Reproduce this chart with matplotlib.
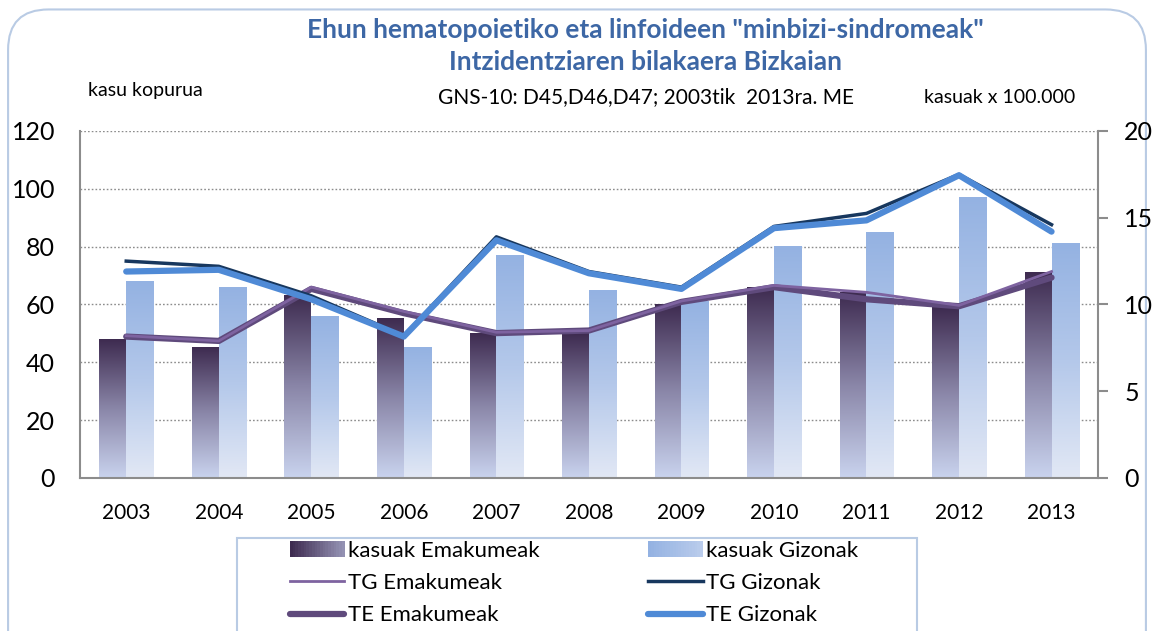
import numpy as np
import matplotlib.pyplot as plt
from matplotlib.patches import FancyBboxPatch, Rectangle
from matplotlib.legend_handler import HandlerBase
from matplotlib.colors import LinearSegmentedColormap
from matplotlib.lines import Line2D

plt.rcParams['font.family'] = ['Lato', 'DejaVu Sans']

years = ['2003', '2004', '2005', '2006', '2007', '2008', '2009', '2010', '2011', '2012', '2013']
kasuak_emakumeak = [48, 45, 63, 55, 50, 50, 60, 66, 64, 59, 71]
kasuak_gizonak = [68, 66, 56, 45, 77, 65, 61, 80, 85, 97, 81]
tg_emakumeak = [8.2, 7.9, 11.0, 9.6, 8.4, 8.5, 10.2, 11.1, 10.7, 9.95, 11.9]
tg_gizonak = [12.5, 12.2, 10.5, 8.2, 13.9, 11.9, 11.0, 14.5, 15.25, 17.5, 14.6]
te_emakumeak = [8.15, 7.9, 10.9, 9.5, 8.35, 8.5, 10.15, 11.0, 10.3, 9.9, 11.55]
te_gizonak = [11.9, 12.0, 10.3, 8.15, 13.7, 11.8, 10.9, 14.4, 14.85, 17.45, 14.2]

cmap_em = LinearSegmentedColormap.from_list('em', ['#c9d3ee', '#8a86a8', '#3e2b50'])
cmap_giz = LinearSegmentedColormap.from_list('giz', ['#e2e8f5', '#b4c8ea', '#94b2e2'])

fig = plt.figure(figsize=(11.54, 6.31), dpi=100)
fig.patches.append(FancyBboxPatch((0.007, -0.1), 0.986, 1.085, boxstyle='round,pad=0,rounding_size=0.035',
                                  transform=fig.transFigure, fc='none', ec='#b9cbe4', lw=1.5,
                                  mutation_aspect=1154 / 631, zorder=-1))

ax = fig.add_axes([0.0693, 0.2425, 0.882, 0.5499])
x = np.arange(len(years))
w = 0.29
grad = np.linspace(0, 1, 256).reshape(-1, 1)

for xi, v in zip(x, kasuak_emakumeak):
    ax.imshow(grad, extent=[xi - w, xi, 0, v], origin='lower', cmap=cmap_em, aspect='auto', zorder=2)
for xi, v in zip(x, kasuak_gizonak):
    ax.imshow(grad, extent=[xi, xi + w + 0.01, 0, v], origin='lower', cmap=cmap_giz, aspect='auto', zorder=2)

ax.set_xlim(-0.5, len(years) - 0.5)
ax.set_ylim(0, 120)
ax.set_yticks(range(0, 121, 20))
ax.set_xticks(x)
ax.set_xticklabels(years, fontsize=15)
ax.tick_params(axis='y', labelsize=18, length=0, pad=18)
ax.tick_params(axis='x', length=0, pad=18)
ax.yaxis.grid(True, ls=(0, (1.2, 1.5)), color='#8c8c8c', lw=1)
ax.set_axisbelow(True)
for s in ['left', 'bottom']:
    ax.spines[s].set_color('#8c8c8c')
    ax.spines[s].set_linewidth(1.5)
ax.spines['top'].set_visible(False)
ax.spines['right'].set_visible(False)

ax2 = ax.twinx()
ax2.set_ylim(0, 20)
ax2.set_yticks(range(0, 21, 5))
ax2.tick_params(axis='y', labelsize=18, length=7, width=1.5, color='#8c8c8c', pad=12)
ax2.spines['right'].set_color('#8c8c8c')
ax2.spines['right'].set_linewidth(1.5)
for s in ['left', 'bottom', 'top']:
    ax2.spines[s].set_visible(False)

ax2.plot(x, te_emakumeak, color='#5f4a7c', lw=4.5, solid_capstyle='round', zorder=3)
ax2.plot(x, tg_emakumeak, color='#7e63a0', lw=2, zorder=4)
ax2.plot(x, tg_gizonak, color='#17375e', lw=2.5, zorder=5)
ax2.plot(x, te_gizonak, color='#4f8ad6', lw=4.5, solid_capstyle='round', zorder=6)

fig.text(0.559, 0.953, 'Ehun hematopoietiko eta linfoideen "minbizi-sindromeak"', ha='center', va='center',
         fontsize=19, fontweight='bold', color='#3d67a5')
fig.text(0.559, 0.902, 'Intzidentziaren bilakaera Bizkaian', ha='center', va='center',
         fontsize=19, fontweight='bold', color='#3d67a5')
fig.text(0.076, 0.857, 'kasu kopurua', ha='left', va='center', fontsize=14)
fig.text(0.560, 0.846, 'GNS-10: D45,D46,D47; 2003tik  2013ra. ME', ha='center', va='center', fontsize=15)
fig.text(0.932, 0.846, 'kasuak x 100.000', ha='right', va='center', fontsize=14)


class GradHandler(HandlerBase):
    def __init__(self, cmap):
        super().__init__()
        self.cmap = cmap

    def create_artists(self, legend, orig_handle, xdescent, ydescent, width, height, fontsize, trans):
        n = 20
        arts = []
        for i in range(n):
            r = Rectangle((xdescent + width * i / n, ydescent), width / n + 0.3, height,
                          fc=self.cmap(1 - 0.6 * i / n), ec='none', transform=trans)
            arts.append(r)
        return arts


# legend frame runs off the bottom edge like in the original
fig.patches.append(Rectangle((237 / 1154, -0.05), 680 / 1154, 0.05 + 93 / 631, transform=fig.transFigure,
                             fc='white', ec='#b9cbe4', lw=1.5, zorder=2))

h_em = Rectangle((0, 0), 1, 1)
h_giz = Rectangle((0, 0), 1, 1, fill=False)
handles = [h_em,
           Line2D([], [], color='#7e63a0', lw=2),
           Line2D([], [], color='#5f4a7c', lw=4.5, solid_capstyle='round'),
           h_giz,
           Line2D([], [], color='#17375e', lw=2.5),
           Line2D([], [], color='#4f8ad6', lw=4.5, solid_capstyle='round')]
labels = ['kasuak Emakumeak', 'TG Emakumeak', 'TE Emakumeak',
          'kasuak Gizonak', 'TG Gizonak', 'TE Gizonak']
leg = fig.legend(handles, labels, ncol=2, loc='upper left',
                 bbox_to_anchor=(290 / 1154, 1 - 541 / 631), bbox_transform=fig.transFigure,
                 fontsize=16, frameon=False,
                 handlelength=2.45, handletextpad=0.15, columnspacing=4.9,
                 labelspacing=0.55, borderpad=0, borderaxespad=0,
                 handler_map={h_em: GradHandler(cmap_em), h_giz: GradHandler(cmap_giz)})
leg.set_zorder(3)

fig.savefig('out.png', dpi=100)
